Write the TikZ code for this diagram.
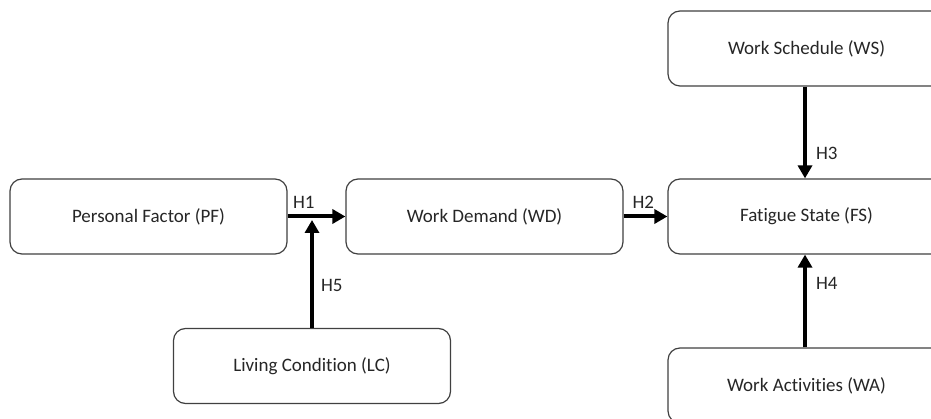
\documentclass[tikz,border=0pt]{standalone}
\usepackage{fontspec}
\setmainfont[Ligatures=NoCommon]{Carlito}
\usetikzlibrary{positioning, arrows.meta}

\begin{document}
\begin{tikzpicture}[x=1pt, y=-1pt,
		factor/.style={draw=black!75, line width=1.2pt, rounded corners=12pt, fill=white,
			minimum width=277pt, minimum height=75pt, text=black!85, font=\fontsize{19}{22}\selectfont},
		link/.style={line width=4pt, -{Triangle[length=13pt, width=14pt]}},
		hyp/.style={text=black!85, inner sep=1pt, font=\fontsize{19}{22}\selectfont}]
			\useasboundingbox (0,0) rectangle (931,419);
			\clip (0,0) rectangle (931,419);
			
			\node [factor] (pf) at (148.5, 216.5) {Personal Factor (PF)};
			\node [factor] (wd) at (484.5, 216.5) {Work Demand (WD)};
			\node [factor] (fs) at (806.5, 216.5) {Fatigue State (FS)};
			\node [factor] (ws) at (806.5, 48.5) {Work Schedule (WS)};
			\node [factor] (wa) at (806.5, 385.5) {Work Activities (WA)};
			\node [factor] (lc) at (312, 366) {Living Condition (LC)};
			\coordinate (lcend) at (312, 220);
			
			%% hypotheses
			\draw [link] (pf.east) -- (wd.west) node [hyp, pos=0.28, above=5pt] {H1};
			\draw [link] (wd.east) -- (fs.west) node [hyp, pos=0.45, above=5pt] {H2};
			\draw [link] (ws.south -| 805,0) -- (fs.north -| 805,0) node [hyp, pos=0.73, right=8pt] {H3};
			\draw [link] (wa.north -| 805,0) -- (fs.south -| 805,0) node [hyp, pos=0.69, right=8pt] {H4};
			\draw [link] (lc.north) -- (lcend) node [hyp, pos=0.39, right=6pt] {H5};
		\end{tikzpicture}
\end{document}
